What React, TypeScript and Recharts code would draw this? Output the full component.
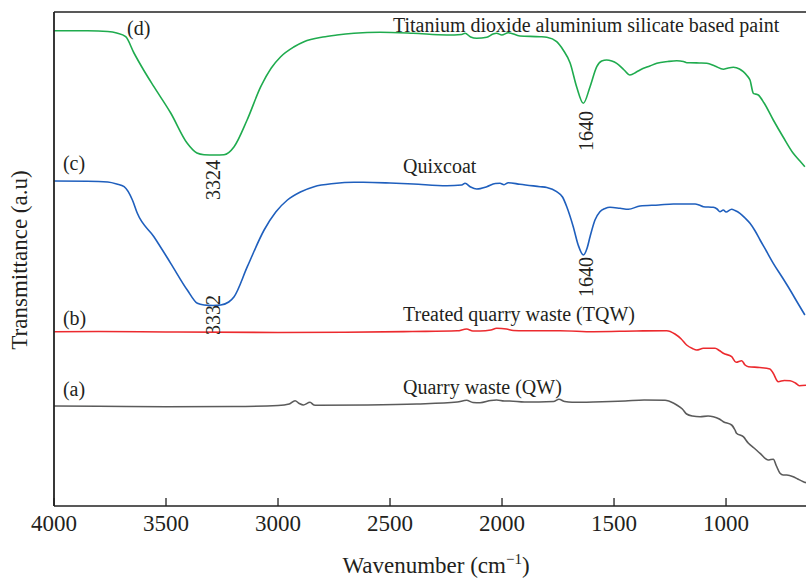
import React from 'react';
import { LineChart, Line, XAxis, YAxis, ReferenceLine, ReferenceDot } from 'recharts';

const wavenumberTicks = [4000, 3500, 3000, 2500, 2000, 1500, 1000];

// (d) Titanium dioxide aluminium silicate based paint
const paintWave = [4000, 3850, 3760, 3720, 3680, 3643, 3600, 3554, 3479, 3406, 3362, 3330, 3280, 3241, 3196, 3138, 3077, 3030, 2988, 2930, 2884, 2800, 2737, 2661, 2545, 2397, 2247, 2180, 2165, 2140, 2113, 2068, 2040, 2024, 2001, 1972, 1920, 1830, 1800, 1756, 1727, 1696, 1667, 1637, 1607, 1577, 1555, 1533, 1510, 1488, 1455, 1429, 1400, 1384, 1340, 1309, 1260, 1220, 1190, 1175, 1161, 1120, 1086, 1050, 1012, 990, 967, 940, 923, 905, 893, 878, 856, 830, 789, 745, 700, 670, 648];
const paintT = [475.3, 475.2, 474.5, 473, 469.3, 453, 436, 419.3, 393, 363, 353, 351.3, 351, 351.3, 359.3, 386, 419.3, 438, 449.3, 459, 464.3, 469, 471, 472.7, 473.7, 472.7, 471, 471.5, 472.7, 469, 467.7, 468.7, 472, 472.7, 471, 473.3, 470, 469.3, 468.7, 464.3, 456, 443, 419.3, 402.7, 419.3, 439.3, 445, 446, 445, 442.7, 436, 431, 434, 436, 440, 442.7, 444.5, 445.3, 444.5, 443.3, 443.3, 443, 442.7, 440, 436.7, 438, 438.7, 437, 434.3, 430, 426, 412.7, 411, 403, 386, 369, 352.7, 345, 339.3];

// (c) Quixcoat
const quixWave = [4000, 3850, 3760, 3720, 3687, 3650, 3628, 3554, 3479, 3405, 3360, 3330, 3290, 3256, 3220, 3196, 3137, 3062, 3010, 2958, 2900, 2839, 2750, 2661, 2619, 2500, 2396, 2247, 2180, 2165, 2140, 2113, 2068, 2030, 2009, 1991, 1972, 1920, 1830, 1800, 1756, 1730, 1711, 1682, 1660, 1637, 1620, 1607, 1585, 1563, 1540, 1518, 1473, 1436, 1384, 1300, 1235, 1138, 1120, 1101, 1057, 1040, 1027, 1012, 1000, 975, 960, 938, 915, 893, 870, 848, 820, 789, 750, 714, 680, 648];
const quixT = [325, 324.8, 324, 322, 319.3, 306, 292.7, 269.3, 242.7, 216, 202.7, 201, 200.5, 201, 204, 209.3, 239.3, 276, 294, 306, 314, 319.3, 322.5, 323.7, 323.7, 323, 322, 320.3, 321, 322.7, 319, 317, 319.3, 322.5, 322.7, 321.3, 323.3, 321.7, 319.3, 318.5, 314.3, 309, 299.3, 279.3, 261, 251, 258, 269.3, 286, 294.3, 297.5, 298.7, 297.7, 296.7, 300, 301, 302, 302, 301, 299.3, 298.7, 297, 294.3, 296, 294, 296.7, 295.5, 292.7, 288, 282.7, 275, 266, 255, 242.7, 229, 216, 203, 191];

// (b) Treated quarry waste (TQW)
const tqwWave = [4000, 3800, 3500, 3000, 2700, 2400, 2200, 2158, 2130, 2098, 2050, 2024, 1980, 1950, 1900, 1741, 1592, 1400, 1265, 1228, 1200, 1176, 1150, 1131, 1101, 1049, 1030, 1012, 975, 955, 930, 915, 900, 850, 804, 790, 767, 740, 714, 690, 673, 643];
const tqwT = [174.3, 174.5, 174, 173.5, 173.7, 174.5, 175.2, 177, 175, 175, 176, 177.7, 177, 175.5, 175.2, 175.3, 174.3, 175, 175.3, 172, 167, 161, 157.5, 156, 157.7, 157.7, 155.5, 152.7, 149.3, 143.7, 145.3, 141, 139.3, 138.5, 137, 133, 124.3, 125.5, 125.3, 123, 120.3, 120.7];

// (a) Quarry waste (QW)
const qwWave = [4000, 3800, 3500, 3200, 3000, 2950, 2924, 2905, 2887, 2857, 2840, 2827, 2600, 2381, 2200, 2158, 2130, 2098, 2050, 2024, 1990, 1966, 1900, 1770, 1746, 1720, 1687, 1592, 1450, 1366, 1272, 1265, 1220, 1195, 1176, 1150, 1116, 1080, 1057, 1030, 1012, 975, 960, 953, 923, 900, 875, 848, 811, 800, 789, 775, 759, 745, 729, 700, 680, 655, 643];
const qwT = [100, 99.8, 99.2, 99.5, 100.5, 102, 105.3, 102.5, 101, 103.7, 101, 100.7, 101, 102, 104, 105.7, 103.5, 103.3, 105.5, 106, 105, 105, 104, 104.5, 106.7, 104.5, 103.7, 104, 105, 106, 105.7, 105.5, 101, 97, 92, 90, 89.3, 90, 89.3, 87, 84.3, 81, 76, 72.7, 69.3, 62.7, 58, 52.7, 46, 46.5, 46.7, 40, 32.7, 31, 31, 29.3, 27, 24.3, 23.3];

// Annotations: text, wavenumber, transmittance, rotated?
const annotationTexts = ['(d)', 'Titanium dioxide aluminium silicate based paint', '3324', '1640', '(c)', 'Quixcoat', '1640', '3332', '(b)', 'Treated quarry waste (TQW)', '(a)', 'Quarry waste (QW)'];
const annotationWave = [3674, 2487, 3259, 1594, 3960, 2442, 1594, 3261, 3960, 2442, 3960, 2442];
const annotationT = [471, 474.5, 326, 375, 336.5, 333, 229, 191, 181, 185, 110, 112];
const annotationRotated = [false, false, true, true, false, false, true, true, false, false, false, false];

const zip = (w: number[], t: number[]) => w.map((x, i) => ({ w: x, t: t[i] }));

const series = [
  { name: 'paint', data: zip(paintWave, paintT), color: '#1fab4e' },
  { name: 'quix', data: zip(quixWave, quixT), color: '#1f5fbd' },
  { name: 'tqw', data: zip(tqwWave, tqwT), color: '#ec2a2e' },
  { name: 'qw', data: zip(qwWave, qwT), color: '#5b5b5b' },
];

const FONT = '"Liberation Serif", "Times New Roman", serif';
const TEXT = '#231f20';

const AnnShape = (rotated: boolean, text: string) => (props: any) => {
  const { cx, cy } = props;
  if (rotated) {
    return (
      <text x={cx} y={cy} transform={`rotate(-90, ${cx}, ${cy})`} textAnchor="middle" fontFamily={FONT} style={{ fontFamily: FONT }} fontSize={20} fill={TEXT}>
        {text}
      </text>
    );
  }
  return (
    <text x={cx} y={cy} textAnchor="start" fontFamily={FONT} style={{ fontFamily: FONT }} fontSize={20} fill={TEXT}>
      {text}
    </text>
  );
};

const XTick = (props: any) => {
  const { x, y, payload } = props;
  return (
    <g fontFamily={FONT}>
      <text x={x} y={y + 33} textAnchor="middle" fontFamily={FONT} style={{ fontFamily: FONT }} fontSize={23} fill={TEXT}>
        {String(payload.value)}
      </text>
    </g>
  );
};

const XLabel = (props: any) => {
  const vb = props.viewBox || {};
  const cx = vb.x + vb.width / 2 + 6;
  const y = vb.y + 67;
  return (
    <text x={cx} y={y} textAnchor="middle" fontFamily={FONT} style={{ fontFamily: FONT }} fontSize={23} fill={TEXT}>
      Wavenumber (cm
      <tspan fontSize={15} dy={-9}>−1</tspan>
      <tspan dy={9}>)</tspan>
    </text>
  );
};

const YLabel = () => {
  const x = 27;
  const y = 260;
  return (
    <text x={x} y={y} transform={`rotate(-90, ${x}, ${y})`} textAnchor="middle" fontFamily={FONT} style={{ fontFamily: FONT }} fontSize={23} fill={TEXT}>
      Transmittance (a.u)
    </text>
  );
};

export default function App() {
  return (
    <div style={{ position: 'absolute', left: 0, top: 0, width: 808, height: 578, background: '#fff', fontFamily: FONT }}>
      <LineChart width={808} height={578} margin={{ top: 12, right: 2, left: 0, bottom: 22 }} style={{ fontFamily: FONT }}>
        <XAxis
          type="number"
          dataKey="w"
          domain={[643, 4000]}
          reversed
          allowDataOverflow
          ticks={wavenumberTicks}
          height={50}
          tickSize={-8}
          tickMargin={0}
          axisLine={{ stroke: '#222', strokeWidth: 1.5 }}
          tickLine={{ stroke: '#222', strokeWidth: 1.3 }}
          tick={<XTick />}
          label={<XLabel />}
        />
        <YAxis
          type="number"
          domain={[0, 494]}
          width={54}
          tick={false}
          tickLine={false}
          axisLine={{ stroke: '#222', strokeWidth: 1.8 }}
          label={<YLabel />}
        />
        <ReferenceLine y={494} stroke="#222" strokeWidth={1.3} ifOverflow="visible" />
        {series.map((s) => (
          <Line
            key={s.name}
            data={s.data}
            dataKey="t"
            type="monotone"
            stroke={s.color}
            strokeWidth={1.6}
            dot={false}
            activeDot={false}
            isAnimationActive={false}
          />
        ))}
        {annotationTexts.map((txt, i) => (
          <ReferenceDot
            key={i}
            x={annotationWave[i]}
            y={annotationT[i]}
            r={0}
            ifOverflow="visible"
            shape={AnnShape(annotationRotated[i], txt)}
          />
        ))}
      </LineChart>
    </div>
  );
}
